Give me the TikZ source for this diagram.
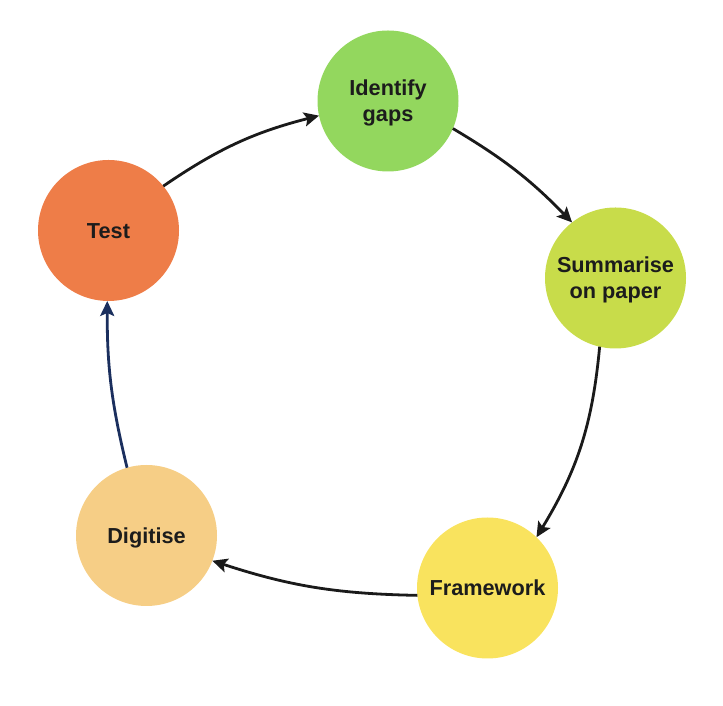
\documentclass[tikz,border=0pt]{standalone}
\usepackage{fontspec}
\setmainfont{Liberation Sans}
\usetikzlibrary{arrows.meta}
\definecolor{gapgreen}{HTML}{93D75E}
\definecolor{sumlime}{HTML}{C8DC4A}
\definecolor{frmyellow}{HTML}{F9E35E}
\definecolor{digsand}{HTML}{F6CE86}
\definecolor{tstorange}{HTML}{EE7D48}
\definecolor{txtdark}{HTML}{1C1C1C}
\definecolor{arrowdark}{HTML}{1A1A1A}
\definecolor{arrownavy}{HTML}{1B2F5E}
\begin{document}
\begin{tikzpicture}[x=1pt,y=1pt,
    stage/.style={circle,minimum size=141pt,inner sep=0pt,outer sep=0pt,align=center,
      font=\bfseries\fontsize{21.7}{26}\selectfont,text=txtdark,
      text height=15.6pt,text depth=0pt},
    twoline/.style={text height=41.6pt},
    flow/.style={line width=2.8pt,draw=arrowdark,
      -{Stealth[length=15pt,width=14pt,inset=3pt]}}]
  \useasboundingbox (0,0) rectangle (723,706);
  \node[stage,twoline,fill=gapgreen] (ga) at (388,605) {Identify\\gaps};
  \node[stage,twoline,fill=sumlime] (sa) at (615.5,428) {Summarise\\on paper};
  \node[stage,fill=frmyellow] (fa) at (487.5,118) {Framework};
  \node[stage,fill=digsand] (da) at (146.5,170.5) {Digitise};
  \node[stage,fill=tstorange] (ta) at (108.5,475.5) {Test};
  %\draw[flow] (ta) -- (ga);
  \draw[flow] (ta.39) to[bend left=10] (ga.192);
  \draw[flow] (ga.-23) to[bend left=7.5] (sa.128);
  \draw[flow] (sa.-103) to[bend left=13] (fa.46);
  \draw[flow] (fa.186) to[bend left=8.5] (da.-21);
  \draw[flow,draw=arrownavy] (da.106) to[bend left=7] (ta.-91);
\end{tikzpicture}
\end{document}
